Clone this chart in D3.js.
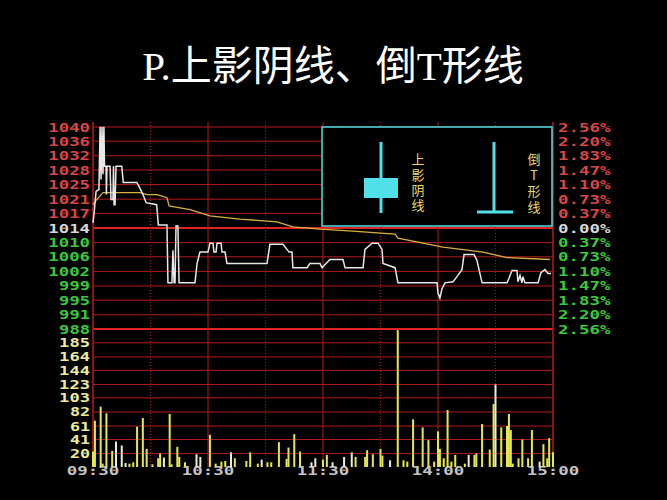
<!DOCTYPE html>
<html><head><meta charset="utf-8">
<script src="https://cdn.jsdelivr.net/npm/d3@7"></script>
<style>html,body{margin:0;background:#000;}svg{display:block}</style>
</head><body><svg id="c" width="667" height="500"></svg>
<script>
// ---------- data ----------
const titleText = "P.上影阴线、倒T形线";
const basePrice = 1014;
const priceLabels = ["1040","1036","1032","1028","1025","1021","1017","1014","1010","1006","1002","999","995","991","988"];
const pctValues = [2.56,2.20,1.83,1.47,1.10,0.73,0.37,0,-0.37,-0.73,-1.10,-1.47,-1.83,-2.20,-2.56];
const pctLabels = ["2.56%","2.20%","1.83%","1.47%","1.10%","0.73%","0.37%","0.00%","0.37%","0.73%","1.10%","1.47%","1.83%","2.20%","2.56%"];
const volTicks = [185,164,144,123,103,82,61,41,20];
const volMax = 205.6;
const timeLabels = ["09:30","10:30","11:30","14:00","15:00"];
const timeMinutes = [0,60,120,180,240];
const legendLeft = "上影阴线";
const legendRight = "倒T形线";

// price line (minute from 09:30, price)
const priceMin = [0,0.5,1.6,3.1,3.7,4.2,4.7,5.2,5.7,6.0,6.8,7.0,7.3,8.9,9.4,9.7,10.4,10.7,11.0,11.5,12.0,15.0,15.8,22.8,24.0,26.1,27.7,33.2,34.1,38.6,39.1,41.2,41.7,42.3,42.8,43.3,44.3,44.9,53.2,54.3,55.8,60.0,61.0,62.6,63.1,64.2,64.7,66.8,67.3,68.9,69.9,90.8,92.3,99.1,102.3,103.8,104.3,111.7,113.2,118.4,119.5,123.6,130.4,131.5,140.9,141.9,145.6,148.7,150.8,151.3,157.6,159.1,179.5,180.0,181.0,182.1,183.6,187.8,189.9,192.5,193.6,198.8,200.3,203.0,216.0,217.0,218.6,221.2,221.7,222.8,223.8,224.3,225.4,232.2,233.7,235.8,237.4,239.0];
const priceVal = [1015.3,1017.4,1023.4,1023.9,1040.0,1026.5,1040.0,1027.8,1040.0,1029.9,1029.9,1022.6,1029.9,1029.9,1021.3,1021.3,1021.3,1029.9,1020.0,1020.0,1029.9,1029.9,1025.7,1025.7,1024.7,1022.6,1020.5,1020.0,1014.8,1014.8,999.9,999.9,1008.3,999.9,999.9,1014.5,1014.5,999.9,999.9,1004.9,1007.8,1007.8,1010.1,1010.1,1007.8,1007.8,1010.1,1010.1,1007.8,1007.8,1004.9,1004.9,1009.8,1009.8,1007.8,1007.8,1003.8,1003.8,1004.9,1004.9,1003.8,1005.9,1005.9,1003.8,1003.8,1008.5,1010.1,1010.1,1008.5,1004.9,1003.8,999.9,999.9,997.3,996.0,998.4,999.9,1000.2,1001.5,1003.3,1007.2,1007.2,1005.7,999.9,999.9,1001.0,1003.1,1003.1,1000.2,1001.8,999.9,1001.5,999.9,999.9,1002.5,1003.3,1002.3,1002.3];

// average price line
const avgMin = [0,1.9,5.2,14.1,24.5,28.2,33.4,38.6,39.7,41.7,50.6,61.0,76.7,96.0,104.3,118.4,135.6,157.6,159.1,182.6,203.5,216.0,238.4];
const avgVal = [1020.0,1021.3,1023.1,1023.1,1023.1,1022.6,1022.6,1021.8,1019.7,1019.5,1018.7,1017.1,1016.3,1015.6,1014.3,1013.7,1013.2,1012.4,1011.4,1009.1,1007.8,1006.4,1005.9];

// volume bars
const volMin = [0,1,4,5,7,10,12,15,17,19,21,23,26,28,31,34,35,37,40,41,44,45,48,54,56,61,64,67,69,72,74,80,82,86,88,91,93,97,101,102,105,108,114,116,120,122,125,131,135,137,142,143,146,150,151,155,159,162,164,167,172,175,178,180,181,183,185,187,189,194,196,199,200,203,207,209,210,213,216,217,218,219,222,224,227,229,233,235,237,238,240];
const volVal = [23,69,90,5,80,24,38,32,6,5,7,60,73,27,4,13,20,14,79,4,30,15,7,19,15,48,5,8,9,22,13,9,22,5,11,7,7,37,12,29,49,23,7,13,11,18,7,15,22,15,15,25,19,27,17,10,204,10,8,71,59,40,8,53,27,13,85,8,18,5,18,18,20,64,26,94,123,59,61,79,55,5,13,41,13,55,8,34,13,43,22];
const volUp = [1,1,1,1,1,1,0,0,0,1,1,1,1,1,1,1,1,0,1,1,1,1,1,0,0,1,1,1,1,0,1,1,1,1,0,1,1,1,1,1,1,1,0,0,1,1,0,0,0,1,1,1,1,1,1,0,1,1,1,1,1,1,1,1,1,1,1,1,1,1,0,1,1,1,1,1,0,1,1,1,1,1,1,1,1,1,0,1,1,1,1];

// ---------- drawing ----------
const svg = d3.select("#c");
svg.append("rect").attr("width",667).attr("height",500).attr("fill","#000");

const L = 93, R = 553, PT = 127, PB = 329, VB = 467;
const x = d3.scaleLinear().domain([0,240]).range([L,R]);
const yPct = d3.scaleLinear().domain([-2.56,2.56]).range([PB,PT]);
const yPrice = d3.scaleLinear().domain([basePrice*(1-0.0256), basePrice*(1+0.0256)]).range([PB,PT]);
const yVol = d3.scaleLinear().domain([0,volMax]).range([VB,PB]);

const gridRed = "#b51a1a";
const brightRed = "#e02424";

// title
svg.append("text").attr("x",333).attr("y",80).attr("text-anchor","middle")
  .attr("fill","#fff").attr("font-size",41)
  .attr("font-family","'Liberation Serif','Noto Sans CJK SC',serif")
  .text(titleText);

// horizontal price grid
svg.append("g").selectAll("line").data(pctValues).join("line")
  .attr("x1",L).attr("x2",R)
  .attr("y1",d=>yPct(d)).attr("y2",d=>yPct(d))
  .attr("stroke",d=> (d===0||d===-2.56)? brightRed : gridRed)
  .attr("stroke-width",d=> (d===0||d===-2.56)? 2.2 : 1);

// horizontal volume grid
svg.append("g").selectAll("line").data(volTicks).join("line")
  .attr("x1",L).attr("x2",R)
  .attr("y1",d=>yVol(d)).attr("y2",d=>yVol(d))
  .attr("stroke",gridRed).attr("stroke-width",1);

// vertical grid
const vMinutes = d3.range(0,241,30);
svg.append("g").selectAll("line").data(vMinutes).join("line")
  .attr("x1",d=>x(d)).attr("x2",d=>x(d))
  .attr("y1",122).attr("y2",VB)
  .attr("stroke",d=> (d%60===0)? gridRed : "#a01818")
  .attr("stroke-width",d=> (d===0||d===240)? 1.5 : 1)
  .attr("stroke-dasharray",d=> (d%60===0)? null : "1,2");

// label helper
const charW = 10.8;
function lbl(g, str, xx, yy, anchor, color){
  const len = str.length*charW - 1.5;
  const x0 = anchor==="end" ? xx-len : (anchor==="middle" ? xx-len/2 : xx);
  g.append("text").attr("x",x0).attr("y",yy)
    .attr("fill",color).attr("font-size",12).attr("font-weight","bold")
    .attr("font-family","'DejaVu Sans Mono',monospace")
    .attr("textLength",len).attr("lengthAdjust","spacingAndGlyphs")
    .text(str);
}
const labG = svg.append("g");
pctValues.forEach((p,i)=>{
  const c = p>0 ? "#d84646" : (p===0 ? "#d8d8d8" : "#3cc83c");
  lbl(labG, priceLabels[i], 90, yPct(p)+4.5, "end", c);
  lbl(labG, pctLabels[i], 558, yPct(p)+4.5, "start", c);
});
volTicks.forEach(v=> lbl(labG, String(v), 90, yVol(v)+4.5, "end", "#ecec9c"));
timeMinutes.forEach((m,i)=> lbl(labG, timeLabels[i], x(m), 475, "middle", "#c4c4c4"));

// volume bars
const vol = volMin.map((m,i)=>({m, v:volVal[i], up:volUp[i]}));
svg.append("g").selectAll("rect").data(vol).join("rect")
  .attr("x",d=>x(d.m)-1).attr("width",2)
  .attr("y",d=>yVol(d.v)).attr("height",d=>VB-yVol(d.v))
  .attr("fill",d=> d.up ? "#e6e650" : "#ececd8");

// average line
const avg = avgMin.map((m,i)=>[m,avgVal[i]]);
svg.append("path").datum(avg)
  .attr("d", d3.line().x(d=>x(d[0])).y(d=>yPrice(d[1])))
  .attr("fill","none").attr("stroke","#d8b040").attr("stroke-width",1.3);

// price line
const pr = priceMin.map((m,i)=>[m,priceVal[i]]);
svg.append("path").datum(pr)
  .attr("d", d3.line().x(d=>x(d[0])).y(d=>yPrice(d[1])))
  .attr("fill","none").attr("stroke","#e8e8e8").attr("stroke-width",1.5);

// legend box
const lg = svg.append("g");
const cyan = "#50e0e8";
lg.append("rect").attr("x",322).attr("y",127).attr("width",230).attr("height",99)
  .attr("fill","#000").attr("stroke",cyan).attr("stroke-width",1.5);
lg.append("line").attr("x1",381).attr("x2",381).attr("y1",142).attr("y2",213).attr("stroke",cyan).attr("stroke-width",3);
lg.append("rect").attr("x",364).attr("y",178).attr("width",34).attr("height",20).attr("fill",cyan);
lg.append("line").attr("x1",494).attr("x2",494).attr("y1",142).attr("y2",212).attr("stroke",cyan).attr("stroke-width",3);
lg.append("line").attr("x1",477).attr("x2",513).attr("y1",212).attr("y2",212).attr("stroke",cyan).attr("stroke-width",3);
const legFont = "'Noto Sans CJK SC',sans-serif";
function vtext(str, xx, yTop, len){
  lg.append("text").attr("x",xx).attr("y",yTop)
    .attr("fill","#e8d870").attr("font-size",13).attr("font-family",legFont)
    .style("writing-mode","vertical-rl").style("text-orientation","upright")
    .attr("textLength",len).attr("lengthAdjust","spacing")
    .text(str);
}
vtext(legendLeft, 418, 153, 59);
vtext(legendRight, 534, 153, 61);
</script></body></html>
